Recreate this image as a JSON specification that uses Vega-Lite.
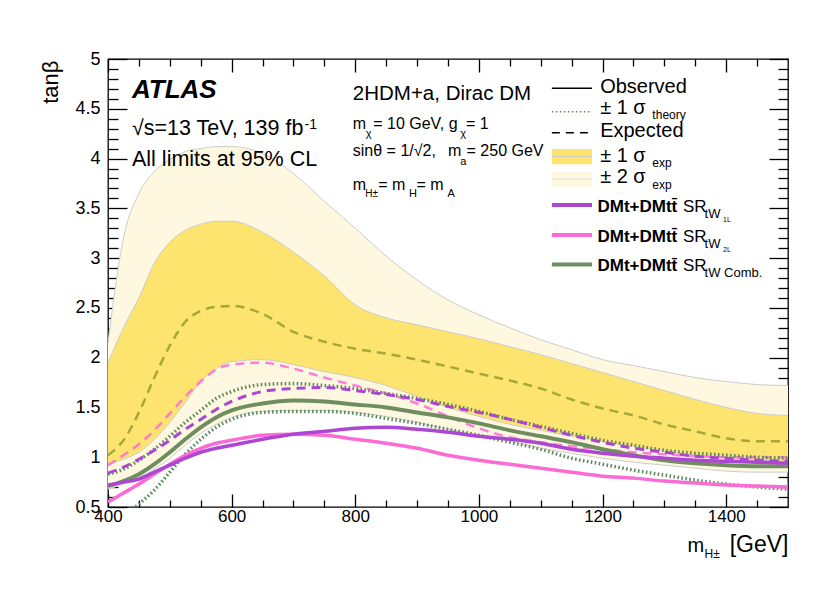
{
  "$schema": "https://vega.github.io/schema/vega-lite/v6.json",
  "width": 680,
  "height": 448,
  "autosize": {"type": "none"},
  "padding": {"left": 108, "top": 59, "right": 42, "bottom": 89},
  "background": "white",
  "config": {
    "view": {"stroke": "#000", "strokeWidth": 1.3},
    "axis": {
      "domain": false, "grid": false, "tickColor": "#000", "tickWidth": 1.3,
      "labelColor": "#000", "labelFont": "Liberation Sans", "titleFont": "Liberation Sans",
      "titleColor": "#000", "titleFontWeight": "normal", "zindex": 1,
      "labelFlush": false, "labelOverlap": false
    },
    "text": {"font": "Liberation Sans", "align": "left", "baseline": "alphabetic", "color": "#000"}
  },
  "datasets": {
    "frame": [{"m": 400, "t": 0.5}],
    "limits": [
      {"m": 400, "lo2": 0.68, "hi2": 2.15, "lo1": 0.93, "hi1": 1.95, "exp": 1.02, "obsC": 0.71, "upC": 0.83, "dnC": null, "exp1L": 0.84, "obs1L": 0.72, "exp2L": 0.92, "obs2L": 0.55},
      {"m": 425, "lo2": 0.73, "hi2": 3.20, "lo1": 0.98, "hi1": 2.30, "exp": 1.17, "obsC": 0.76, "upC": 0.88, "dnC": 0.40, "exp1L": 0.90, "obs1L": 0.75, "exp2L": 1.02, "obs2L": 0.64},
      {"m": 450, "lo2": 0.80, "hi2": 3.65, "lo1": 1.05, "hi1": 2.60, "exp": 1.45, "obsC": 0.83, "upC": 0.97, "dnC": 0.53, "exp1L": 0.98, "obs1L": 0.78, "exp2L": 1.13, "obs2L": 0.73},
      {"m": 475, "lo2": 0.88, "hi2": 3.87, "lo1": 1.18, "hi1": 2.95, "exp": 1.80, "obsC": 0.93, "upC": 1.08, "dnC": 0.67, "exp1L": 1.07, "obs1L": 0.85, "exp2L": 1.27, "obs2L": 0.83},
      {"m": 500, "lo2": 0.99, "hi2": 3.99, "lo1": 1.35, "hi1": 3.16, "exp": 2.12, "obsC": 1.05, "upC": 1.21, "dnC": 0.85, "exp1L": 1.17, "obs1L": 0.92, "exp2L": 1.44, "obs2L": 0.93},
      {"m": 525, "lo2": 1.12, "hi2": 4.07, "lo1": 1.55, "hi1": 3.28, "exp": 2.36, "obsC": 1.18, "upC": 1.35, "dnC": 1.03, "exp1L": 1.28, "obs1L": 0.99, "exp2L": 1.61, "obs2L": 1.02},
      {"m": 550, "lo2": 1.24, "hi2": 4.10, "lo1": 1.76, "hi1": 3.34, "exp": 2.47, "obsC": 1.30, "upC": 1.47, "dnC": 1.18, "exp1L": 1.38, "obs1L": 1.05, "exp2L": 1.76, "obs2L": 1.09},
      {"m": 575, "lo2": 1.33, "hi2": 4.12, "lo1": 1.89, "hi1": 3.37, "exp": 2.51, "obsC": 1.40, "upC": 1.59, "dnC": 1.30, "exp1L": 1.48, "obs1L": 1.09, "exp2L": 1.88, "obs2L": 1.14},
      {"m": 600, "lo2": 1.40, "hi2": 4.12, "lo1": 1.96, "hi1": 3.37, "exp": 2.52, "obsC": 1.47, "upC": 1.66, "dnC": 1.38, "exp1L": 1.56, "obs1L": 1.12, "exp2L": 1.93, "obs2L": 1.17},
      {"m": 650, "lo2": 1.46, "hi2": 4.05, "lo1": 1.98, "hi1": 3.26, "exp": 2.44, "obsC": 1.54, "upC": 1.73, "dnC": 1.45, "exp1L": 1.66, "obs1L": 1.18, "exp2L": 1.95, "obs2L": 1.22},
      {"m": 700, "lo2": 1.47, "hi2": 3.85, "lo1": 1.93, "hi1": 3.06, "exp": 2.26, "obsC": 1.57, "upC": 1.74, "dnC": 1.46, "exp1L": 1.69, "obs1L": 1.23, "exp2L": 1.89, "obs2L": 1.23},
      {"m": 750, "lo2": 1.47, "hi2": 3.57, "lo1": 1.86, "hi1": 2.82, "exp": 2.16, "obsC": 1.56, "upC": 1.72, "dnC": 1.46, "exp1L": 1.70, "obs1L": 1.26, "exp2L": 1.80, "obs2L": 1.22},
      {"m": 800, "lo2": 1.45, "hi2": 3.30, "lo1": 1.80, "hi1": 2.53, "exp": 2.09, "obsC": 1.53, "upC": 1.69, "dnC": 1.44, "exp1L": 1.67, "obs1L": 1.29, "exp2L": 1.72, "obs2L": 1.18},
      {"m": 850, "lo2": 1.41, "hi2": 3.02, "lo1": 1.72, "hi1": 2.40, "exp": 2.04, "obsC": 1.50, "upC": 1.64, "dnC": 1.39, "exp1L": 1.63, "obs1L": 1.30, "exp2L": 1.64, "obs2L": 1.14},
      {"m": 900, "lo2": 1.35, "hi2": 2.78, "lo1": 1.61, "hi1": 2.33, "exp": 1.98, "obsC": 1.45, "upC": 1.59, "dnC": 1.34, "exp1L": 1.58, "obs1L": 1.28, "exp2L": 1.54, "obs2L": 1.09},
      {"m": 950, "lo2": 1.28, "hi2": 2.58, "lo1": 1.50, "hi1": 2.26, "exp": 1.91, "obsC": 1.40, "upC": 1.53, "dnC": 1.28, "exp1L": 1.51, "obs1L": 1.25, "exp2L": 1.41, "obs2L": 1.02},
      {"m": 1000, "lo2": 1.22, "hi2": 2.43, "lo1": 1.41, "hi1": 2.19, "exp": 1.84, "obsC": 1.34, "upC": 1.46, "dnC": 1.22, "exp1L": 1.45, "obs1L": 1.21, "exp2L": 1.29, "obs2L": 0.97},
      {"m": 1050, "lo2": 1.16, "hi2": 2.30, "lo1": 1.33, "hi1": 2.11, "exp": 1.77, "obsC": 1.27, "upC": 1.38, "dnC": 1.15, "exp1L": 1.38, "obs1L": 1.18, "exp2L": 1.20, "obs2L": 0.93},
      {"m": 1100, "lo2": 1.09, "hi2": 2.18, "lo1": 1.27, "hi1": 2.03, "exp": 1.69, "obsC": 1.21, "upC": 1.31, "dnC": 1.08, "exp1L": 1.30, "obs1L": 1.14, "exp2L": 1.15, "obs2L": 0.89},
      {"m": 1150, "lo2": 1.04, "hi2": 2.08, "lo1": 1.21, "hi1": 1.94, "exp": 1.58, "obsC": 1.15, "upC": 1.24, "dnC": 0.99, "exp1L": 1.22, "obs1L": 1.08, "exp2L": 1.11, "obs2L": 0.85},
      {"m": 1200, "lo2": 0.99, "hi2": 1.98, "lo1": 1.16, "hi1": 1.85, "exp": 1.49, "obsC": 1.08, "upC": 1.17, "dnC": 0.93, "exp1L": 1.15, "obs1L": 1.04, "exp2L": 1.08, "obs2L": 0.81},
      {"m": 1250, "lo2": 0.95, "hi2": 1.92, "lo1": 1.11, "hi1": 1.76, "exp": 1.42, "obsC": 1.02, "upC": 1.12, "dnC": 0.87, "exp1L": 1.09, "obs1L": 1.01, "exp2L": 1.05, "obs2L": 0.79},
      {"m": 1300, "lo2": 0.92, "hi2": 1.86, "lo1": 1.06, "hi1": 1.67, "exp": 1.33, "obsC": 0.97, "upC": 1.07, "dnC": 0.82, "exp1L": 1.05, "obs1L": 0.99, "exp2L": 1.03, "obs2L": 0.76},
      {"m": 1350, "lo2": 0.89, "hi2": 1.80, "lo1": 1.02, "hi1": 1.58, "exp": 1.26, "obsC": 0.94, "upC": 1.04, "dnC": 0.77, "exp1L": 1.01, "obs1L": 0.97, "exp2L": 1.01, "obs2L": 0.74},
      {"m": 1400, "lo2": 0.86, "hi2": 1.76, "lo1": 0.99, "hi1": 1.50, "exp": 1.19, "obsC": 0.92, "upC": 1.02, "dnC": 0.73, "exp1L": 0.99, "obs1L": 0.96, "exp2L": 1.00, "obs2L": 0.72},
      {"m": 1450, "lo2": 0.85, "hi2": 1.73, "lo1": 0.97, "hi1": 1.44, "exp": 1.16, "obsC": 0.91, "upC": 1.00, "dnC": 0.70, "exp1L": 0.97, "obs1L": 0.95, "exp2L": 1.00, "obs2L": 0.71},
      {"m": 1500, "lo2": 0.85, "hi2": 1.72, "lo1": 0.96, "hi1": 1.42, "exp": 1.16, "obsC": 0.91, "upC": 0.99, "dnC": 0.68, "exp1L": 0.96, "obs1L": 0.94, "exp2L": 1.00, "obs2L": 0.70}
    ]
  },
  "resolve": {"axis": {"x": "independent", "y": "independent"}},
  "layer": [
    {
      "data": {"name": "frame"},
      "mark": {"type": "point", "opacity": 0},
      "encoding": {
        "x": {"field": "m", "type": "quantitative", "scale": {"domain": [400, 1500], "nice": false, "zero": false},
          "axis": {"orient": "bottom", "values": [450, 500, 550, 650, 700, 750, 850, 900, 950, 1050, 1100, 1150, 1250, 1300, 1350, 1450], "tickSize": -7, "labels": false,
            "title": "m", "titleFontSize": 20, "titleAlign": "left", "titleBaseline": "alphabetic", "titleX": 579, "titleY": 44}},
        "y": {"field": "t", "type": "quantitative", "scale": {"domain": [0.5, 5], "nice": false, "zero": false},
          "axis": {"orient": "left", "values": [0.6, 0.7, 0.8, 0.9, 1.1, 1.2, 1.3, 1.4, 1.6, 1.7, 1.8, 1.9, 2.1, 2.2, 2.3, 2.4, 2.6, 2.7, 2.8, 2.9, 3.1, 3.2, 3.3, 3.4, 3.6, 3.7, 3.8, 3.9, 4.1, 4.2, 4.3, 4.4, 4.6, 4.7, 4.8, 4.9], "tickSize": -10, "labels": false, "title": null}}
      }
    },
    {
      "data": {"name": "frame"},
      "mark": {"type": "point", "opacity": 0},
      "encoding": {
        "x": {"field": "m", "type": "quantitative", "scale": {"domain": [400, 1500], "nice": false, "zero": false},
          "axis": {"orient": "top", "values": [400, 600, 800, 1000, 1200, 1400], "tickSize": -13, "labels": false,
            "title": "H±", "titleFontSize": 12, "titleAlign": "left", "titleBaseline": "alphabetic", "titleX": 596, "titleY": 498}},
        "y": {"field": "t", "type": "quantitative", "scale": {"domain": [0.5, 5], "nice": false, "zero": false},
          "axis": {"orient": "right", "values": [0.5, 1, 1.5, 2, 2.5, 3, 3.5, 4, 4.5, 5], "tickSize": -19, "labels": false, "title": null}}
      }
    },
    {
      "data": {"name": "frame"},
      "mark": {"type": "point", "opacity": 0},
      "encoding": {
        "x": {"field": "m", "type": "quantitative", "scale": {"domain": [400, 1500], "nice": false, "zero": false},
          "axis": {"orient": "top", "values": [450, 500, 550, 650, 700, 750, 850, 900, 950, 1050, 1100, 1150, 1250, 1300, 1350, 1450], "tickSize": -7, "labels": false, "title": null}},
        "y": {"field": "t", "type": "quantitative", "scale": {"domain": [0.5, 5], "nice": false, "zero": false},
          "axis": {"orient": "right", "values": [0.6, 0.7, 0.8, 0.9, 1.1, 1.2, 1.3, 1.4, 1.6, 1.7, 1.8, 1.9, 2.1, 2.2, 2.3, 2.4, 2.6, 2.7, 2.8, 2.9, 3.1, 3.2, 3.3, 3.4, 3.6, 3.7, 3.8, 3.9, 4.1, 4.2, 4.3, 4.4, 4.6, 4.7, 4.8, 4.9], "tickSize": -10, "labels": false, "title": null}}
      }
    },
    {
      "data": {"values": [{}]},
      "layer": [
        {
          "data": {"name": "limits"},
          "mark": {"type": "area", "color": "#fef8e0", "interpolate": "monotone", "clip": true},
          "encoding": {
            "x": {"field": "m", "type": "quantitative", "scale": {"domain": [400, 1500], "nice": false, "zero": false},
              "axis": {"orient": "bottom", "values": [400, 600, 800, 1000, 1200, 1400], "format": "d", "tickSize": -13, "labelPadding": 14, "labelFontSize": 17,
                "title": "[GeV]", "titleFontSize": 23, "titleAlign": "right", "titleBaseline": "alphabetic", "titleX": 680, "titleY": 44}},
            "y": {"field": "lo2", "type": "quantitative", "scale": {"domain": [0.5, 5], "nice": false, "zero": false},
              "axis": {"orient": "left", "values": [0.5, 1, 1.5, 2, 2.5, 3, 3.5, 4, 4.5, 5], "format": "~g", "tickSize": -19, "labelPadding": 27, "labelFontSize": 18,
                "title": "tanβ", "titleFontSize": 22, "titleAngle": 270, "titleAlign": "right", "titleBaseline": "alphabetic", "titleX": -51, "titleY": 1}},
            "y2": {"field": "hi2"}
          }
        },
        {
          "data": {"name": "limits"},
          "mark": {"type": "line", "color": "#cccccc", "strokeWidth": 1, "interpolate": "monotone", "clip": true},
          "encoding": {"x": {"field": "m", "type": "quantitative"}, "y": {"field": "hi2", "type": "quantitative"}}
        },
        {
          "data": {"name": "limits"},
          "mark": {"type": "line", "color": "#cccccc", "strokeWidth": 1, "interpolate": "monotone", "clip": true},
          "encoding": {"x": {"field": "m", "type": "quantitative"}, "y": {"field": "lo2", "type": "quantitative"}}
        },
        {
          "data": {"name": "limits"},
          "mark": {"type": "area", "color": "#fde46e", "interpolate": "monotone", "clip": true},
          "encoding": {"x": {"field": "m", "type": "quantitative"}, "y": {"field": "lo1", "type": "quantitative"}, "y2": {"field": "hi1"}}
        },
        {
          "data": {"name": "limits"},
          "mark": {"type": "line", "color": "#cccccc", "strokeWidth": 1, "interpolate": "monotone", "clip": true},
          "encoding": {"x": {"field": "m", "type": "quantitative"}, "y": {"field": "hi1", "type": "quantitative"}}
        },
        {
          "data": {"name": "limits"},
          "mark": {"type": "line", "color": "#cccccc", "strokeWidth": 1, "interpolate": "monotone", "clip": true},
          "encoding": {"x": {"field": "m", "type": "quantitative"}, "y": {"field": "lo1", "type": "quantitative"}}
        },
        {
          "data": {"name": "limits"},
          "mark": {"type": "line", "color": "#a6a83a", "strokeWidth": 2.5, "strokeDash": [9, 6], "interpolate": "monotone", "clip": true},
          "encoding": {"x": {"field": "m", "type": "quantitative"}, "y": {"field": "exp", "type": "quantitative"}}
        },
        {
          "data": {"name": "limits"},
          "mark": {"type": "line", "color": "#fb6bd6", "strokeWidth": 2.5, "strokeDash": [9, 6], "opacity": 0.85, "interpolate": "monotone", "clip": true},
          "encoding": {"x": {"field": "m", "type": "quantitative"}, "y": {"field": "exp2L", "type": "quantitative"}}
        },
        {
          "data": {"name": "limits"},
          "mark": {"type": "line", "color": "#5e8a5c", "strokeWidth": 3.5, "strokeDash": [1.6, 2.4], "interpolate": "monotone", "clip": true},
          "encoding": {"x": {"field": "m", "type": "quantitative"}, "y": {"field": "upC", "type": "quantitative"}}
        },
        {
          "data": {"name": "limits"},
          "mark": {"type": "line", "color": "#5e8a5c", "strokeWidth": 3.5, "strokeDash": [1.6, 2.4], "interpolate": "monotone", "clip": true},
          "encoding": {"x": {"field": "m", "type": "quantitative"}, "y": {"field": "dnC", "type": "quantitative"}}
        },
        {
          "data": {"name": "limits"},
          "mark": {"type": "line", "color": "#ac46d2", "strokeWidth": 3, "strokeDash": [9, 6], "interpolate": "monotone", "clip": true},
          "encoding": {"x": {"field": "m", "type": "quantitative"}, "y": {"field": "exp1L", "type": "quantitative"}}
        },
        {
          "data": {"name": "limits"},
          "mark": {"type": "line", "color": "#fb6bd6", "strokeWidth": 3.5, "interpolate": "monotone", "clip": true},
          "encoding": {"x": {"field": "m", "type": "quantitative"}, "y": {"field": "obs2L", "type": "quantitative"}}
        },
        {
          "data": {"name": "limits"},
          "mark": {"type": "line", "color": "#6f8e60", "strokeWidth": 4, "interpolate": "monotone", "clip": true},
          "encoding": {"x": {"field": "m", "type": "quantitative"}, "y": {"field": "obsC", "type": "quantitative"}}
        },
        {
          "data": {"name": "limits"},
          "mark": {"type": "line", "color": "#ad47d3", "strokeWidth": 3.5, "interpolate": "monotone", "clip": true},
          "encoding": {"x": {"field": "m", "type": "quantitative"}, "y": {"field": "obs1L", "type": "quantitative"}}
        },
        {"mark": {"type": "text", "text": "ATLAS", "fontSize": 26, "fontWeight": "bold", "fontStyle": "italic"},
          "encoding": {"x": {"datum": 438.8, "type": "quantitative"}, "y": {"datum": 4.608, "type": "quantitative"}}},
        {"mark": {"type": "text", "text": "√s=13 TeV, 139 fb", "fontSize": 21.5},
          "encoding": {"x": {"datum": 438.8, "type": "quantitative"}, "y": {"datum": 4.236, "type": "quantitative"}}},
        {"mark": {"type": "text", "text": "-1", "fontSize": 14},
          "encoding": {"x": {"datum": 718, "type": "quantitative"}, "y": {"datum": 4.3, "type": "quantitative"}}},
        {"mark": {"type": "text", "text": "All limits at 95% CL", "fontSize": 21.5},
          "encoding": {"x": {"datum": 438.8, "type": "quantitative"}, "y": {"datum": 3.925, "type": "quantitative"}}},
        {"mark": {"type": "text", "text": "2HDM+a, Dirac DM", "fontSize": 20.5},
          "encoding": {"x": {"datum": 796, "type": "quantitative"}, "y": {"datum": 4.588, "type": "quantitative"}}},
        {"mark": {"type": "text", "text": "m", "fontSize": 16},
          "encoding": {"x": {"datum": 796, "type": "quantitative"}, "y": {"datum": 4.293, "type": "quantitative"}}},
        {"mark": {"type": "text", "text": "χ", "fontSize": 11},
          "encoding": {"x": {"datum": 817, "type": "quantitative"}, "y": {"datum": 4.216, "type": "quantitative"}}},
        {"mark": {"type": "text", "text": " = 10 GeV, g", "fontSize": 16},
          "encoding": {"x": {"datum": 829, "type": "quantitative"}, "y": {"datum": 4.293, "type": "quantitative"}}},
        {"mark": {"type": "text", "text": "χ", "fontSize": 11},
          "encoding": {"x": {"datum": 970, "type": "quantitative"}, "y": {"datum": 4.216, "type": "quantitative"}}},
        {"mark": {"type": "text", "text": " = 1", "fontSize": 16},
          "encoding": {"x": {"datum": 979, "type": "quantitative"}, "y": {"datum": 4.293, "type": "quantitative"}}},
        {"mark": {"type": "text", "text": "sinθ = 1/√2,", "fontSize": 16},
          "encoding": {"x": {"datum": 796, "type": "quantitative"}, "y": {"datum": 4.025, "type": "quantitative"}}},
        {"mark": {"type": "text", "text": "m", "fontSize": 16},
          "encoding": {"x": {"datum": 950, "type": "quantitative"}, "y": {"datum": 4.025, "type": "quantitative"}}},
        {"mark": {"type": "text", "text": "a", "fontSize": 11},
          "encoding": {"x": {"datum": 970, "type": "quantitative"}, "y": {"datum": 3.94, "type": "quantitative"}}},
        {"mark": {"type": "text", "text": " = 250 GeV", "fontSize": 16},
          "encoding": {"x": {"datum": 980, "type": "quantitative"}, "y": {"datum": 4.025, "type": "quantitative"}}},
        {"mark": {"type": "text", "text": "m", "fontSize": 16},
          "encoding": {"x": {"datum": 796, "type": "quantitative"}, "y": {"datum": 3.683, "type": "quantitative"}}},
        {"mark": {"type": "text", "text": "H±", "fontSize": 10},
          "encoding": {"x": {"datum": 816, "type": "quantitative"}, "y": {"datum": 3.613, "type": "quantitative"}}},
        {"mark": {"type": "text", "text": " = m", "fontSize": 16},
          "encoding": {"x": {"datum": 837, "type": "quantitative"}, "y": {"datum": 3.683, "type": "quantitative"}}},
        {"mark": {"type": "text", "text": "H", "fontSize": 11},
          "encoding": {"x": {"datum": 887, "type": "quantitative"}, "y": {"datum": 3.613, "type": "quantitative"}}},
        {"mark": {"type": "text", "text": " = m", "fontSize": 16},
          "encoding": {"x": {"datum": 899, "type": "quantitative"}, "y": {"datum": 3.683, "type": "quantitative"}}},
        {"mark": {"type": "text", "text": "A", "fontSize": 11},
          "encoding": {"x": {"datum": 949, "type": "quantitative"}, "y": {"datum": 3.613, "type": "quantitative"}}},
        {"mark": {"type": "rule", "color": "#000", "strokeWidth": 1.5},
          "encoding": {"x": {"datum": 1118, "type": "quantitative"}, "x2": {"datum": 1183}, "y": {"datum": 4.706, "type": "quantitative"}}},
        {"mark": {"type": "text", "text": "Observed", "fontSize": 20},
          "encoding": {"x": {"datum": 1196.1, "type": "quantitative"}, "y": {"datum": 4.661, "type": "quantitative"}}},
        {"mark": {"type": "rule", "color": "#5e8a5c", "strokeWidth": 1.5, "strokeDash": [1.5, 2.5]},
          "encoding": {"x": {"datum": 1118, "type": "quantitative"}, "x2": {"datum": 1183}, "y": {"datum": 4.47, "type": "quantitative"}}},
        {"mark": {"type": "text", "text": "± 1 σ", "fontSize": 20},
          "encoding": {"x": {"datum": 1196.1, "type": "quantitative"}, "y": {"datum": 4.445, "type": "quantitative"}}},
        {"mark": {"type": "text", "text": "theory", "fontSize": 12},
          "encoding": {"x": {"datum": 1280.6, "type": "quantitative"}, "y": {"datum": 4.395, "type": "quantitative"}}},
        {"mark": {"type": "rule", "color": "#000", "strokeWidth": 1.5, "strokeDash": [8, 6]},
          "encoding": {"x": {"datum": 1118, "type": "quantitative"}, "x2": {"datum": 1183}, "y": {"datum": 4.259, "type": "quantitative"}}},
        {"mark": {"type": "text", "text": "Expected", "fontSize": 20},
          "encoding": {"x": {"datum": 1196.1, "type": "quantitative"}, "y": {"datum": 4.212, "type": "quantitative"}}},
        {"mark": {"type": "rect", "color": "#fde46e"},
          "encoding": {"x": {"datum": 1118, "type": "quantitative"}, "x2": {"datum": 1183}, "y": {"datum": 4.095, "type": "quantitative"}, "y2": {"datum": 3.942}}},
        {"mark": {"type": "rule", "color": "#cccccc", "strokeWidth": 1},
          "encoding": {"x": {"datum": 1118, "type": "quantitative"}, "x2": {"datum": 1183}, "y": {"datum": 4.02, "type": "quantitative"}}},
        {"mark": {"type": "text", "text": "± 1 σ", "fontSize": 20},
          "encoding": {"x": {"datum": 1196.1, "type": "quantitative"}, "y": {"datum": 3.968, "type": "quantitative"}}},
        {"mark": {"type": "text", "text": "exp", "fontSize": 12},
          "encoding": {"x": {"datum": 1280.6, "type": "quantitative"}, "y": {"datum": 3.918, "type": "quantitative"}}},
        {"mark": {"type": "rect", "color": "#fef8e0"},
          "encoding": {"x": {"datum": 1118, "type": "quantitative"}, "x2": {"datum": 1183}, "y": {"datum": 3.867, "type": "quantitative"}, "y2": {"datum": 3.717}}},
        {"mark": {"type": "rule", "color": "#dddddd", "strokeWidth": 1},
          "encoding": {"x": {"datum": 1118, "type": "quantitative"}, "x2": {"datum": 1183}, "y": {"datum": 3.794, "type": "quantitative"}}},
        {"mark": {"type": "text", "text": "± 2 σ", "fontSize": 20},
          "encoding": {"x": {"datum": 1196.1, "type": "quantitative"}, "y": {"datum": 3.751, "type": "quantitative"}}},
        {"mark": {"type": "text", "text": "exp", "fontSize": 12},
          "encoding": {"x": {"datum": 1280.6, "type": "quantitative"}, "y": {"datum": 3.69, "type": "quantitative"}}},
        {"mark": {"type": "rule", "color": "#ad47d3", "strokeWidth": 4},
          "encoding": {"x": {"datum": 1118, "type": "quantitative"}, "x2": {"datum": 1183}, "y": {"datum": 3.533, "type": "quantitative"}}},
        {"mark": {"type": "text", "text": "DMt+DMtt̄", "fontSize": 17, "fontWeight": "bold"},
          "encoding": {"x": {"datum": 1191.8, "type": "quantitative"}, "y": {"datum": 3.466, "type": "quantitative"}}},
        {"mark": {"type": "text", "text": "SR", "fontSize": 17},
          "encoding": {"x": {"datum": 1330, "type": "quantitative"}, "y": {"datum": 3.466, "type": "quantitative"}}},
        {"mark": {"type": "text", "text": "tW", "fontSize": 13},
          "encoding": {"x": {"datum": 1365, "type": "quantitative"}, "y": {"datum": 3.399, "type": "quantitative"}}},
        {"mark": {"type": "text", "text": "1L", "fontSize": 7},
          "encoding": {"x": {"datum": 1395, "type": "quantitative"}, "y": {"datum": 3.365, "type": "quantitative"}}},
        {"mark": {"type": "rule", "color": "#fb6bd6", "strokeWidth": 4},
          "encoding": {"x": {"datum": 1118, "type": "quantitative"}, "x2": {"datum": 1183}, "y": {"datum": 3.231, "type": "quantitative"}}},
        {"mark": {"type": "text", "text": "DMt+DMtt̄", "fontSize": 17, "fontWeight": "bold"},
          "encoding": {"x": {"datum": 1191.8, "type": "quantitative"}, "y": {"datum": 3.164, "type": "quantitative"}}},
        {"mark": {"type": "text", "text": "SR", "fontSize": 17},
          "encoding": {"x": {"datum": 1330, "type": "quantitative"}, "y": {"datum": 3.164, "type": "quantitative"}}},
        {"mark": {"type": "text", "text": "tW", "fontSize": 13},
          "encoding": {"x": {"datum": 1365, "type": "quantitative"}, "y": {"datum": 3.097, "type": "quantitative"}}},
        {"mark": {"type": "text", "text": "2L", "fontSize": 7},
          "encoding": {"x": {"datum": 1395, "type": "quantitative"}, "y": {"datum": 3.063, "type": "quantitative"}}},
        {"mark": {"type": "rule", "color": "#6f8e60", "strokeWidth": 4},
          "encoding": {"x": {"datum": 1118, "type": "quantitative"}, "x2": {"datum": 1183}, "y": {"datum": 2.937, "type": "quantitative"}}},
        {"mark": {"type": "text", "text": "DMt+DMtt̄", "fontSize": 17, "fontWeight": "bold"},
          "encoding": {"x": {"datum": 1191.8, "type": "quantitative"}, "y": {"datum": 2.869, "type": "quantitative"}}},
        {"mark": {"type": "text", "text": "SR", "fontSize": 17},
          "encoding": {"x": {"datum": 1330, "type": "quantitative"}, "y": {"datum": 2.869, "type": "quantitative"}}},
        {"mark": {"type": "text", "text": "tW Comb.", "fontSize": 13},
          "encoding": {"x": {"datum": 1365, "type": "quantitative"}, "y": {"datum": 2.812, "type": "quantitative"}}}
      ]
    }
  ]
}
